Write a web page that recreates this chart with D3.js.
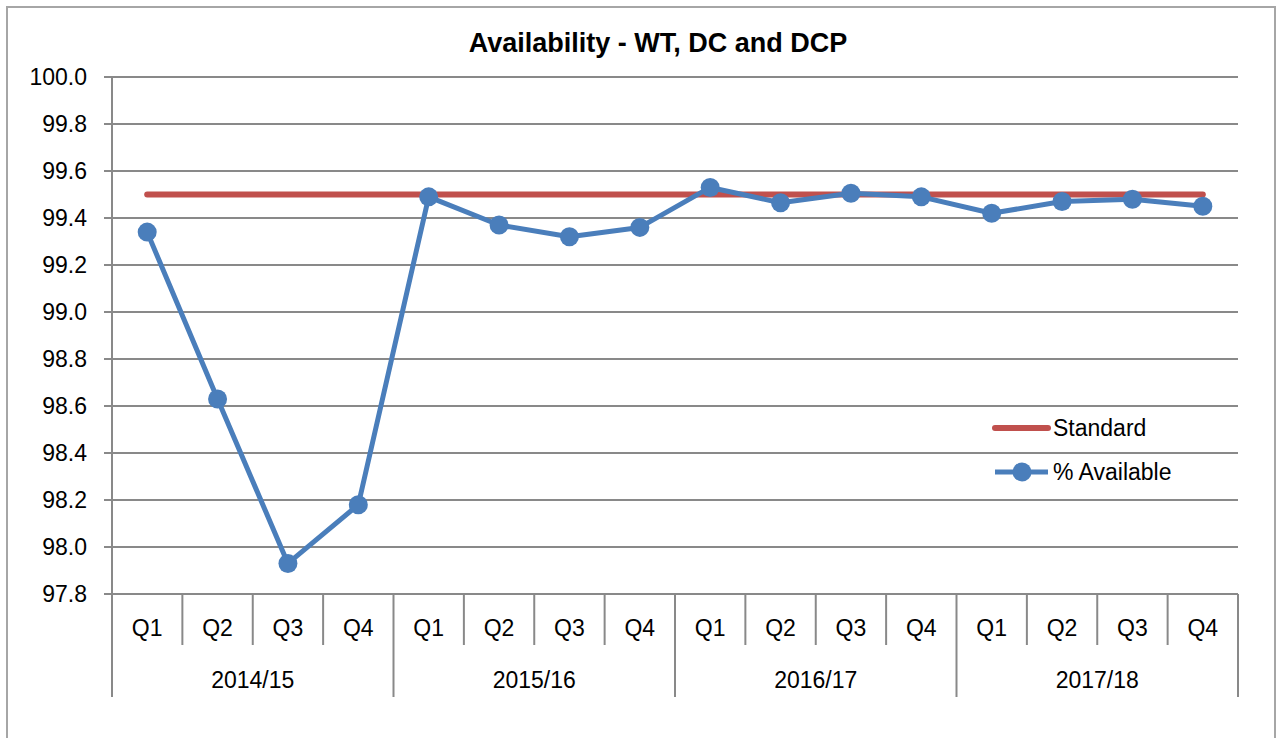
<!DOCTYPE html>
<html>
<head>
  <meta charset="utf-8">
  <title>Availability - WT, DC and DCP</title>
  <script src="https://d3js.org/d3.v7.min.js"></script>
  <style>
    body { margin: 0; background: #fff; }
    svg text { font-family: "Liberation Sans", Arial, sans-serif; fill: #000; }
  </style>
</head>
<body>
<div id="chart"></div>
<script>
  // chart data
  var years = ["2014/15", "2015/16", "2016/17", "2017/18"];
  var quarters = ["Q1", "Q2", "Q3", "Q4"];
  var available = [99.34, 98.63, 97.93, 98.18,
                   99.49, 99.37, 99.32, 99.36,
                   99.53, 99.465, 99.505, 99.49,
                   99.42, 99.47, 99.48, 99.45];
  var standard = 99.5;
  var yTicks = [97.8, 98.0, 98.2, 98.4, 98.6, 98.8, 99.0, 99.2, 99.4, 99.6, 99.8, 100.0];

  var width = 1277, height = 738;
  var margin = { top: 77, right: 39, bottom: 144, left: 112 };
  var plotW = width - margin.left - margin.right;
  var plotH = height - margin.top - margin.bottom;

  var blue = "#4a7ebb", red = "#c0504d", grid = "#898989";

  // one slot per quarter
  var keys = [];
  years.forEach(function(y) {
    quarters.forEach(function(q) { keys.push(y + " " + q); });
  });

  var x = d3.scaleBand().domain(keys).range([0, plotW]);
  var y = d3.scaleLinear().domain([97.8, 100.0]).range([plotH, 0]);

  var svg = d3.select("#chart").append("svg")
      .attr("width", width)
      .attr("height", height);

  // chart area border (open at the bottom edge of the window)
  svg.append("rect")
      .attr("x", 7).attr("y", 7)
      .attr("width", width - 2 - 7).attr("height", height + 10)
      .attr("fill", "none")
      .attr("stroke", "#a6a6a6")
      .attr("stroke-width", 2);

  svg.append("text")
      .attr("x", 658).attr("y", 52)
      .attr("text-anchor", "middle")
      .style("font-size", "27px")
      .style("font-weight", "bold")
      .text("Availability - WT, DC and DCP");

  var g = svg.append("g")
      .attr("transform", "translate(" + margin.left + "," + margin.top + ")");

  // horizontal gridlines
  g.selectAll(".grid")
      .data(yTicks)
      .enter().append("line")
      .attr("x1", -8).attr("x2", plotW)
      .attr("y1", function(d) { return y(d); })
      .attr("y2", function(d) { return y(d); })
      .attr("stroke", grid).attr("stroke-width", 2);

  // y axis labels
  g.selectAll(".ylab")
      .data(yTicks)
      .enter().append("text")
      .attr("x", -25)
      .attr("y", function(d) { return y(d); })
      .attr("dy", "0.36em")
      .attr("text-anchor", "end")
      .style("font-size", "23px")
      .text(function(d) { return d3.format(".1f")(d); });

  // left axis line, running down through the category rows
  g.append("line")
      .attr("x1", 0).attr("x2", 0)
      .attr("y1", 0).attr("y2", plotH + 103)
      .attr("stroke", grid).attr("stroke-width", 2);

  // category separators: short ones between quarters, long ones between years
  var bounds = d3.range(keys.length + 1);
  g.selectAll(".sep")
      .data(bounds)
      .enter().append("line")
      .attr("x1", function(i) { return i * x.bandwidth(); })
      .attr("x2", function(i) { return i * x.bandwidth(); })
      .attr("y1", plotH)
      .attr("y2", function(i) { return plotH + (i % 4 === 0 ? 103 : 51); })
      .attr("stroke", grid).attr("stroke-width", 2);

  // quarter labels
  g.selectAll(".qlab")
      .data(keys)
      .enter().append("text")
      .attr("x", function(d) { return x(d) + x.bandwidth() / 2; })
      .attr("y", plotH + 42)
      .attr("text-anchor", "middle")
      .style("font-size", "23px")
      .text(function(d) { return d.split(" ")[1]; });

  // year labels
  g.selectAll(".ylabel")
      .data(years)
      .enter().append("text")
      .attr("x", function(d) { return x(d + " Q1") + 2 * x.bandwidth(); })
      .attr("y", plotH + 94)
      .attr("text-anchor", "middle")
      .style("font-size", "23px")
      .text(function(d) { return d; });

  // standard line
  g.append("line")
      .attr("x1", x(keys[0]) + x.bandwidth() / 2)
      .attr("x2", x(keys[keys.length - 1]) + x.bandwidth() / 2)
      .attr("y1", y(standard)).attr("y2", y(standard))
      .attr("stroke", red).attr("stroke-width", 6)
      .attr("stroke-linecap", "round");

  // % available series
  var line = d3.line()
      .x(function(d, i) { return x(keys[i]) + x.bandwidth() / 2; })
      .y(function(d) { return y(d); });

  g.append("path")
      .datum(available)
      .attr("d", line)
      .attr("fill", "none")
      .attr("stroke", blue).attr("stroke-width", 5)
      .attr("stroke-linejoin", "round");

  g.selectAll(".pt")
      .data(available)
      .enter().append("circle")
      .attr("cx", function(d, i) { return x(keys[i]) + x.bandwidth() / 2; })
      .attr("cy", function(d) { return y(d); })
      .attr("r", 9.5)
      .attr("fill", blue);

  // legend
  var leg = svg.append("g").attr("transform", "translate(993,428)");
  leg.append("line")
      .attr("x1", 2).attr("x2", 55).attr("y1", 0).attr("y2", 0)
      .attr("stroke", red).attr("stroke-width", 6).attr("stroke-linecap", "round");
  leg.append("text")
      .attr("x", 60).attr("y", 0).attr("dy", "0.36em")
      .style("font-size", "23px").text("Standard");
  leg.append("line")
      .attr("x1", 2).attr("x2", 55).attr("y1", 44).attr("y2", 44)
      .attr("stroke", blue).attr("stroke-width", 5);
  leg.append("circle")
      .attr("cx", 29).attr("cy", 44).attr("r", 9.5).attr("fill", blue);
  leg.append("text")
      .attr("x", 60).attr("y", 44).attr("dy", "0.36em")
      .style("font-size", "23px").text("% Available");
</script>
</body>
</html>
